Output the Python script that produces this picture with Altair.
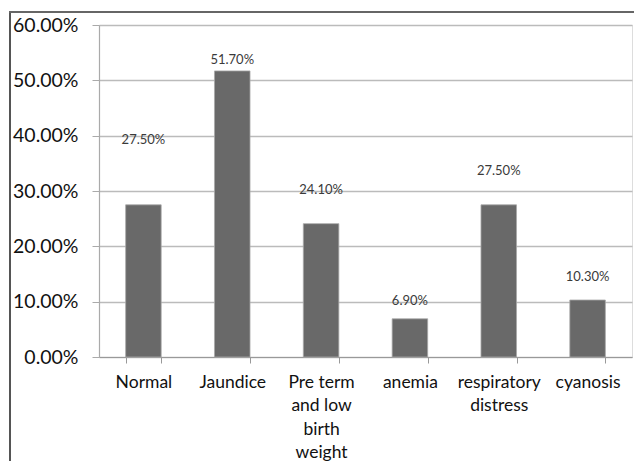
import altair as alt
import pandas as pd

categories = ["Normal", "Jaundice", "Pre term\nand low\nbirth\nweight", "anemia", "respiratory\ndistress", "cyanosis"]
values = [27.5, 51.7, 24.1, 6.9, 27.5, 10.3]
value_labels = ["27.50%", "51.70%", "24.10%", "6.90%", "27.50%", "10.30%"]
label_pos = [39.2, 53.7, 30.1, 10.2, 33.7, 14.4]
y_ticks = [0, 10, 20, 30, 40, 50, 60]

df = pd.DataFrame({"cat": categories, "value": values, "label": value_labels, "lpos": label_pos})

FONT = "Lato"

x_enc = alt.X(
    "cat:N",
    sort=categories,
    title=None,
    scale=alt.Scale(paddingInner=0.6, paddingOuter=0.3),
    axis=alt.Axis(
        labelAngle=0,
        labelExpr="split(datum.label, '\\n')",
        labelFont=FONT,
        labelFontSize=17.5,
        labelColor="#111111",
        labelLineHeight=23.5,
        labelPadding=10,
        labelBaseline="top",
        tickBand="extent",
        tickSize=6,
        tickColor="#999999",
        domainColor="#999999",
        domainWidth=1.2,
        grid=False,
    ),
)

y_enc = alt.Y(
    "value:Q",
    title=None,
    scale=alt.Scale(domain=[0, 60], nice=False),
    axis=alt.Axis(
        values=y_ticks,
        labelExpr="format(datum.value, '.2f') + '%'",
        labelFont=FONT,
        labelFontSize=19.5,
        labelColor="#111111",
        labelPadding=14,
        tickSize=7,
        tickColor="#aaaaaa",
        domainColor="#aaaaaa",
        domainWidth=1.2,
        gridColor="#bbbbbb",
        gridWidth=1.3,
    ),
)

bars = alt.Chart(df).mark_bar(color="#696969", stroke="#a8a8a8", strokeWidth=0.8).encode(
    x=x_enc, y=y_enc
)

texts = alt.Chart(df).mark_text(
    font=FONT, fontSize=13, color="#3a3a3a", baseline="middle"
).encode(
    x=alt.X("cat:N", sort=categories),
    y=alt.Y("lpos:Q"),
    text="label:N",
)

left_border = alt.Chart(df).mark_rule(color="#555555", strokeWidth=2).encode(
    x=alt.value(-89), y=alt.value(-14), y2=alt.value(440)
)
top_border = alt.Chart(df).mark_rule(color="#666666", strokeWidth=2).encode(
    x=alt.value(-90), x2=alt.value(540), y=alt.value(-13)
)

chart = alt.layer(bars, texts, left_border, top_border).properties(
    width=533,
    height=332,
    autosize=alt.AutoSizeParams(type="none"),
    padding={"left": 99, "top": 25, "right": 2, "bottom": 104},
).configure_view(stroke=None).configure(background="white")

chart.save("out.html", embed_options={"renderer": "svg", "actions": False})
